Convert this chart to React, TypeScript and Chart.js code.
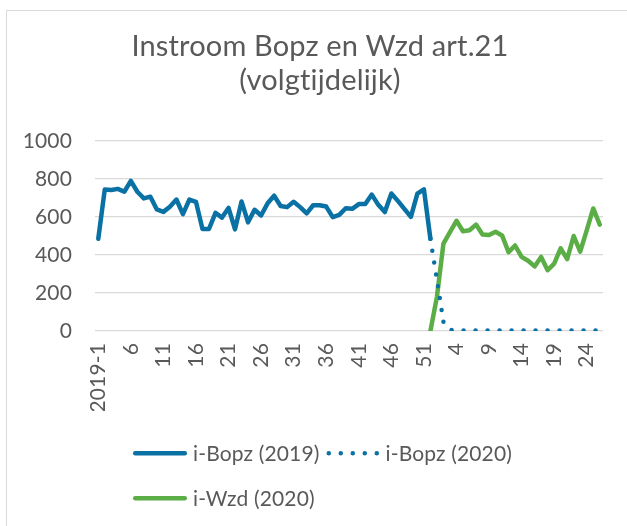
import React, { useEffect, useRef } from 'react';
import { Chart, registerables } from 'chart.js';

Chart.register(...registerables);

// Categories: 2019 weeks 1-52, then 2020 weeks 1-26
const categories: string[] = [
  '2019-1', '2', '3', '4', '5', '6', '7', '8', '9', '10',
  '11', '12', '13', '14', '15', '16', '17', '18', '19', '20',
  '21', '22', '23', '24', '25', '26', '27', '28', '29', '30',
  '31', '32', '33', '34', '35', '36', '37', '38', '39', '40',
  '41', '42', '43', '44', '45', '46', '47', '48', '49', '50',
  '51', '52',
  '2020-1', '2', '3', '4', '5', '6', '7', '8', '9', '10',
  '11', '12', '13', '14', '15', '16', '17', '18', '19', '20',
  '21', '22', '23', '24', '25', '26',
];

const bopz2019: (number | null)[] = [
  485, 745, 742, 748, 733, 790, 733, 698, 707, 640,
  627, 654, 692, 615, 692, 680, 537, 537, 622, 597,
  648, 535, 682, 572, 638, 608, 672, 712, 658, 652,
  680, 652, 619, 662, 662, 655, 599, 611, 646, 643,
  668, 668, 718, 664, 626, 724, 685, 643, 601, 723,
  746, 485,
  null, null, null, null, null, null, null, null, null, null,
  null, null, null, null, null, null, null, null, null, null,
  null, null, null, null, null, null,
];

const bopz2020: (number | null)[] = [
  null, null, null, null, null, null, null, null, null, null,
  null, null, null, null, null, null, null, null, null, null,
  null, null, null, null, null, null, null, null, null, null,
  null, null, null, null, null, null, null, null, null, null,
  null, null, null, null, null, null, null, null, null, null,
  null, 485,
  270, 48, 6, 3, 2, 2, 3, 2, 2, 2,
  3, 2, 2, 2, 2, 3, 2, 2, 2, 2,
  3, 2, 2, 2, 2, 2,
];

const wzd2020: (number | null)[] = [
  null, null, null, null, null, null, null, null, null, null,
  null, null, null, null, null, null, null, null, null, null,
  null, null, null, null, null, null, null, null, null, null,
  null, null, null, null, null, null, null, null, null, null,
  null, null, null, null, null, null, null, null, null, null,
  null, 0,
  180, 460, 520, 580, 525, 530, 560, 508, 505, 522,
  503, 415, 450, 390, 370, 340, 390, 320, 355, 435,
  378, 500, 418, 530, 645, 560,
];

const yTicks = [0, 200, 400, 600, 800, 1000];
const titleLines = ['Instroom Bopz en Wzd art.21', '(volgtijdelijk)'];

const BLUE = '#0A71A5';
const GREEN = '#5BAD45';
const TEXT = '#595959';
const GRID = '#D9D9D9';
const FONT = 'Lato';
const TICK_SIZE = 21;

const titleShiftPlugin = {
  id: 'titleShift',
  afterLayout(chart: any) {
    const tb = chart.titleBlock;
    if (tb) {
      tb.left = 37;
    }
  },
  beforeDraw(chart: any) {
    // small letter spacing: avoids the font's "ti" ligature
    try {
      (chart.ctx as any).letterSpacing = '0.15px';
    } catch (e) {
      /* ignore */
    }
  },
};

const legendPlugin = {
  id: 'lineLegend',
  afterDraw(chart: any) {
    const { ctx, chartArea } = chart;
    ctx.save();
    ctx.font = `${TICK_SIZE}px ${FONT}`;
    ctx.fillStyle = TEXT;
    ctx.textBaseline = 'alphabetic';
    ctx.textAlign = 'left';
    const startX = chartArea.left + 38;
    let x = startX;
    let y = chartArea.bottom + 122.3;
    const rowGap = 45;
    chart.data.datasets.forEach((ds: any) => {
      const dotted = Array.isArray(ds.borderDash) && ds.borderDash.length > 0;
      const sampleW = dotted ? 53 : 54;
      const tw = ctx.measureText(ds.label).width;
      const itemW = sampleW + 6 + tw;
      if (x > startX && x + itemW > chartArea.right) {
        x = startX;
        y += rowGap;
      }
      ctx.save();
      ctx.strokeStyle = ds.borderColor;
      ctx.lineWidth = ds.borderWidth;
      ctx.lineCap = 'round';
      ctx.setLineDash(dotted ? ds.borderDash : []);
      ctx.beginPath();
      const r = ds.borderWidth / 2;
      ctx.moveTo(x + r, y);
      ctx.lineTo(x + sampleW - r, y);
      ctx.stroke();
      ctx.restore();
      ctx.fillText(ds.label, x + sampleW + 6, y + 7.5);
      x += itemW + 7;
    });
    ctx.restore();
  },
};

export default function App() {
  const canvasRef = useRef<HTMLCanvasElement | null>(null);

  useEffect(() => {
    let chart: Chart | null = null;
    let cancelled = false;
    const make = () => {
      if (cancelled || !canvasRef.current) return;
      chart = new Chart(canvasRef.current, {
        type: 'line',
        data: {
          labels: categories,
          datasets: [
            {
              label: 'i-Bopz (2019)',
              data: bopz2019,
              borderColor: BLUE,
              backgroundColor: BLUE,
              borderWidth: 4.5,
              borderCapStyle: 'round',
              borderJoinStyle: 'round',
              pointRadius: 0,
              tension: 0,
            },
            {
              label: 'i-Bopz (2020)',
              data: bopz2020,
              borderColor: BLUE,
              backgroundColor: BLUE,
              borderWidth: 4.5,
              borderDash: [0, 12],
              borderCapStyle: 'round',
              borderJoinStyle: 'round',
              pointRadius: 0,
              tension: 0,
            },
            {
              label: 'i-Wzd (2020)',
              data: wzd2020,
              borderColor: GREEN,
              backgroundColor: GREEN,
              borderWidth: 4.5,
              borderCapStyle: 'round',
              borderJoinStyle: 'round',
              pointRadius: 0,
              tension: 0,
            },
          ] as any,
        },
        options: {
          responsive: false,
          animation: false,
          devicePixelRatio: 1,
          layout: { padding: { left: 0, right: 24, top: 0, bottom: 115 } },
          plugins: {
            legend: { display: false },
            tooltip: { enabled: false },
            title: {
              display: true,
              text: titleLines,
              color: TEXT,
              font: { family: FONT, size: 29, weight: 'normal', lineHeight: 1.152 },
              padding: { top: 30.4, bottom: 43.8 },
            },
          },
          scales: {
            x: {
              type: 'category',
              offset: true,
              grid: { display: false, drawTicks: false },
              border: { display: false },
              afterFit: (scale: any) => { scale.height = 80; },
              ticks: {
                autoSkip: false,
                minRotation: 90,
                maxRotation: 90,
                padding: 12,
                color: TEXT,
                font: { family: FONT, size: TICK_SIZE },
                callback: function (this: any, value: any, index: number) {
                  return index % 5 === 0 ? categories[index] : null;
                },
              },
            },
            y: {
              min: 0,
              max: 1000,
              afterFit: (scale: any) => { scale.width = 95; },
              afterBuildTicks: (scale: any) => {
                scale.ticks = yTicks.map((v) => ({ value: v }));
              },
              grid: { color: GRID, lineWidth: 1.3, drawTicks: false },
              border: { display: false },
              ticks: {
                padding: 23,
                color: TEXT,
                font: { family: FONT, size: TICK_SIZE },
                callback: (value: any) => String(value),
              },
            },
          },
        },
        plugins: [titleShiftPlugin, legendPlugin],
      });
    };
    const fontsApi = (document as any).fonts;
    if (fontsApi && fontsApi.load) {
      Promise.all([
        fontsApi.load(`${TICK_SIZE}px ${FONT}`),
        fontsApi.load(`29px ${FONT}`),
      ]).then(make, make);
    } else {
      make();
    }
    return () => {
      cancelled = true;
      if (chart) chart.destroy();
    };
  }, []);

  return (
    <div
      style={{
        position: 'fixed',
        left: 0,
        top: 0,
        width: 627,
        height: 526,
        overflow: 'hidden',
        background: '#ffffff',
      }}
    >
      <div
        style={{
          position: 'absolute',
          left: 6,
          top: 10,
          width: 700,
          height: 700,
          border: `1px solid ${GRID}`,
          boxSizing: 'border-box',
        }}
      />
      <canvas
        ref={canvasRef}
        width={627}
        height={526}
        style={{ position: 'absolute', left: 0, top: 0, width: 627, height: 526, display: 'block' }}
      />
    </div>
  );
}
